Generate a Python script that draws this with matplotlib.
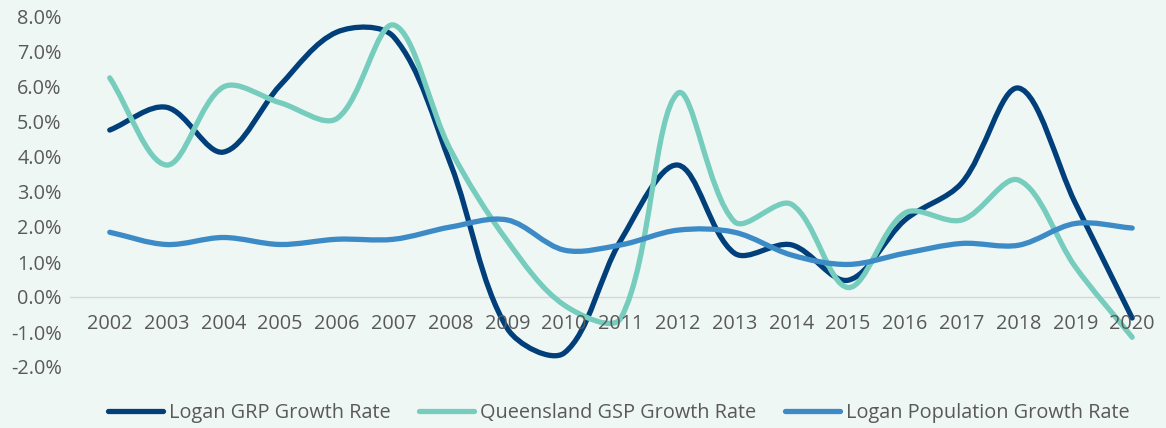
import matplotlib
matplotlib.use("Agg")
import matplotlib.pyplot as plt
from matplotlib.path import Path
from matplotlib.patches import PathPatch
from matplotlib.lines import Line2D
import numpy as np

years = [str(y) for y in range(2002, 2021)]
grp = [4.77, 5.42, 4.14, 6.05, 7.57, 7.43, 3.8, -0.9, -1.6, 1.63, 3.77, 1.25, 1.49, 0.48, 2.2, 3.26, 5.97, 2.68, -0.6]
qld = [6.26, 3.77, 6.0, 5.55, 5.1, 7.77, 4.2, 1.6, -0.23, -0.6, 5.82, 2.15, 2.65, 0.27, 2.4, 2.2, 3.34, 0.86, -1.15]
pop = [1.85, 1.5, 1.7, 1.5, 1.65, 1.65, 2.0, 2.2, 1.34, 1.49, 1.91, 1.85, 1.2, 0.93, 1.25, 1.53, 1.48, 2.1, 1.97]
yticks = [-2, -1, 0, 1, 2, 3, 4, 5, 6, 7, 8]
series_names = ["Logan GRP Growth Rate", "Queensland GSP Growth Rate", "Logan Population Growth Rate"]
colors = ["#013F7A", "#76CCBD", "#3C8BC6"]

BG = "#EFF7F4"
TXT = "#595959"
FONT = ["Open Sans", "DejaVu Sans"]
plt.rcParams['font.family'] = FONT
FS = 14.3

fig = plt.figure(figsize=(11.66, 4.28), dpi=100, facecolor=BG)
ax = fig.add_axes([70/1166, 1-367/428, 1090/1166, 350/428])
ax.set_facecolor(BG)
ax.set_xlim(-0.70, 18.49)
ax.set_ylim(-2, 8)

# pixel scale of the axes (for shape-aware smoothing)
SX = 1090 / (18.49 + 0.70)
SY = 350 / 10.0

def smooth_path(xs, ys, t=1/3):
    P = np.column_stack([np.asarray(xs, float) * SX, np.asarray(ys, float) * SY])
    n = len(P)
    out_c, in_c = [None] * n, [None] * n
    for i in range(n):
        pm = P[max(i-1, 0)]
        pp = P[min(i+1, n-1)]
        T = pp - pm
        d0 = np.linalg.norm(P[i] - pm)
        d1 = np.linalg.norm(pp - P[i])
        s = d0 + d1 if d0 + d1 > 0 else 1
        out_c[i] = P[i] + T * t * d1 / s
        in_c[i] = P[i] - T * t * d0 / s
    verts = [P[0]]
    codes = [Path.MOVETO]
    for i in range(n - 1):
        verts += [out_c[i], in_c[i+1], P[i+1]]
        codes += [Path.CURVE4] * 3
    V = np.array(verts)
    V[:, 0] /= SX
    V[:, 1] /= SY
    return Path(V, codes)

x = np.arange(len(years))
for data, c in zip([grp, qld, pop], colors):
    patch = PathPatch(smooth_path(x, data), facecolor="none", edgecolor=c,
                      lw=3.8, capstyle="round", joinstyle="round", zorder=3)
    ax.add_patch(patch)

ax.axhline(0, color="#D6D6D6", lw=1.0, zorder=1)
for s in ax.spines.values():
    s.set_visible(False)

ax.set_yticks(yticks)
ax.set_yticklabels([f"{v:.1f}%" for v in yticks])
ax.set_xticks([])
for xi, lab in zip(x, years):
    ax.annotate(lab, xy=(xi, 0), xytext=(0, -27), textcoords="offset pixels",
                ha="center", va="center", fontsize=FS, color=TXT)
ax.tick_params(axis="y", length=0, pad=6, labelsize=FS, labelcolor=TXT)

handles = [Line2D([0], [0], color=c, lw=3.8, solid_capstyle="round") for c in colors]
leg = fig.legend(handles, series_names, loc="center", bbox_to_anchor=(619/1166, 1-413/428),
                 ncol=3, frameon=False, fontsize=FS, handlelength=2.75, handletextpad=0.32,
                 columnspacing=1.45, labelcolor=TXT)

fig.savefig("out.png", dpi=100, facecolor=BG)
